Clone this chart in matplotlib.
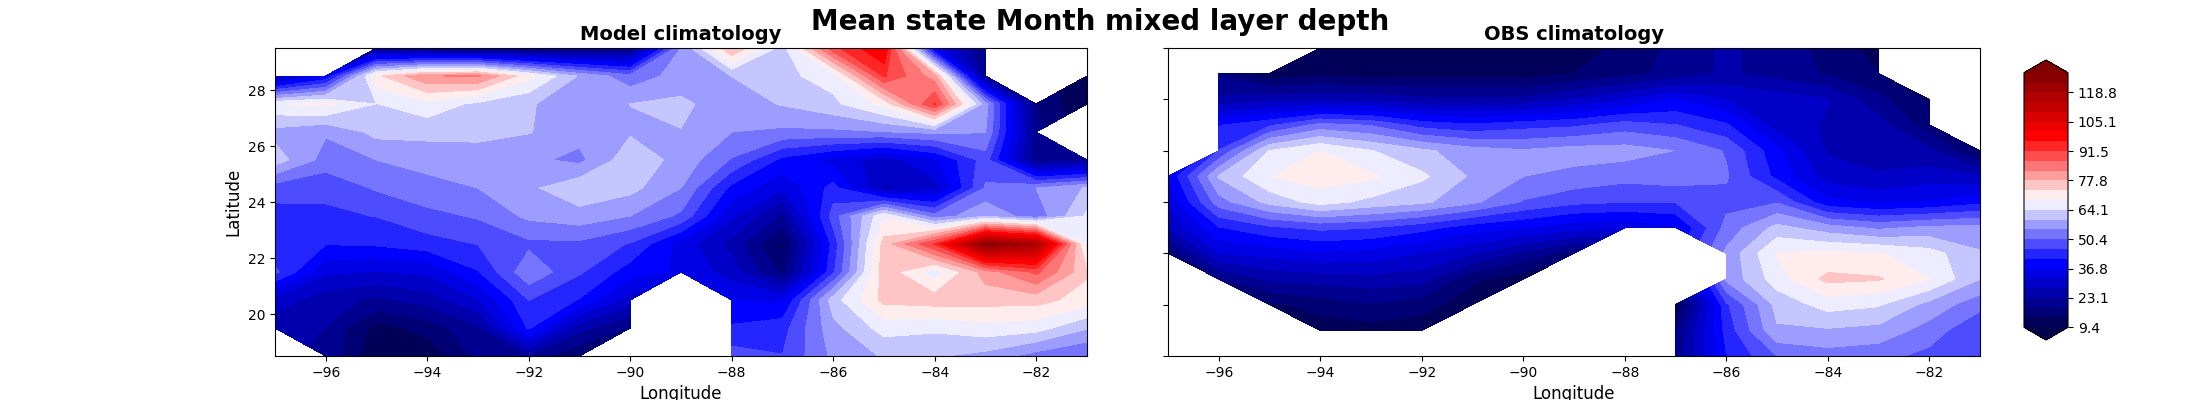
import numpy as np
import matplotlib
matplotlib.use('Agg')
import matplotlib.pyplot as plt

n = np.nan

# contour levels (9.4 up to about 128, every third one labelled)
level_min = 9.4
level_max = 127.93
n_levels = 27

lon = [-97, -96, -95, -94, -93, -92, -91, -90, -89, -88, -87, -86, -85, -84, -83, -82, -81]

# model grid, north to south
model_lat = [29.5, 28.5, 27.5, 26.5, 25.5, 24.5, 23.5, 22.5, 21.5, 20.5, 19.5, 18.5]
model_mld = [
    [n, n, 20, 16, 15, 15, 16, 18, 55, 78, 62, 90, 101, 35, 18, n, n],
    [25, 37, 72, 82, 83, 70, 59, 52, 57, 59.6, 63, 66, 92, 80, 20, n, 10],
    [68, 70, 64, 67, 63, 60, 57, 59.6, 60.5, 57, 59.9, 63, 70, 92, 57, 18, 10],
    [58, 55.5, 61, 61, 61, 59.8, 56.5, 59, 59.4, 55, 54, 54, 54.8, 56, 55.2, 20, n],
    [62, 53, 55, 56.5, 57, 56, 53.8, 62.5, 58, 50, 40, 35, 30, 36, 48, 20, 22],
    [48, 47, 51, 53.5, 55, 58.6, 63, 61, 55, 40, 33, 43, 27, 30, 51, 55, 60],
    [44, 45, 46, 49, 51, 56, 57.7, 55, 49.5, 33, 22, 48, 68, 52, 59, 52, 65],
    [42, 41.5, 42, 44, 46, 49.4, 49.4, 45.5, 35, 26, 13, 43, 75, 92, 125, 118, 66],
    [47, 33, 32, 33, 41, 54, 46.5, 39, 36, 30, 17, 45, 76, 66, 80, 88, 74],
    [30, 25, 22, 25, 32, 45.9, 41, 30, n, 36.7, 36, 62, 74.5, 75.5, 75, 75, 71],
    [25, 23, 12, 16, 22, 42, 25, 18, n, 42, 44, 58, 66, 65, 67, 66, 60],
    [n, 22, 10, 10, 20, 22, 14, n, n, 48, 46, 56, 60, 60, 58, 53, 50],
]

# obs grid, north to south
obs_lat = [30, 29, 28, 27, 26, 25, 24, 23, 22, 21, 20, 19, 18]
obs_mld = [
    [n, n, n, 11, 11, 11, 11, 11, 12, 15, 20, 24, 21, 17, 12, n, n],
    [n, 18, 11, 13, 12, 12, 12, 12, 14, 17, 20, 24, 21, 18, 14, n, n],
    [n, 24, 26, 26, 26, 24, 24, 24, 28, 32, 37, 32, 30, 28, 20, 13, n],
    [n, 41, 45, 52, 50, 44, 42, 44, 45, 48, 46, 42, 30, 27, 25, 16, n],
    [n, 46, 64.2, 68.7, 64.3, 60.5, 57, 55.5, 57, 57, 54.9, 50, 38, 27, 26, 24, 13],
    [37, 60, 68.5, 71, 69.5, 65, 58.8, 55, 53.7, 52, 53, 51, 40, 30, 28, 30, 28],
    [33, 53, 61, 66, 62.8, 60.5, 56, 50, 47, 46, 46, 49, 50, 38, 36, 37, 40],
    [28, 41, 45, 47, 46, 43, 39, 37, 34, 33, 36, 52, 61, 57, 54, 56, 56.5],
    [15, 32, 34, 36, 35, 32, 28, 22, 16, n, n, 56, 69, 69.5, 69, 66, 60],
    [n, 18, 24, 25, 26, 25, 15, 11, n, n, n, 56, 66.5, 74.5, 73.7, 68.7, 59.6],
    [n, n, 13, 16, 18, 16, 11, n, n, n, 10, 45, 61, 66, 64.6, 58, 52],
    [n, n, n, 11, 12, 11, n, n, n, n, 18, 43, 59, 59, 58, 53, 46],
    [n, n, n, n, n, n, n, n, n, n, 20, 41, 50.4, 53, 52, 49, 48],
]

levels = np.linspace(level_min, level_max, n_levels)

fig, (ax1, ax2) = plt.subplots(1, 2, figsize=(22, 4))
fig.subplots_adjust(wspace=0.1)

model_grid = np.ma.masked_invalid(np.array(model_mld, dtype=float))
obs_grid = np.ma.masked_invalid(np.array(obs_mld, dtype=float))

ax1.contourf(lon, model_lat, model_grid, levels=levels, cmap='seismic', extend='both')
ax1.set_title('Model climatology', fontsize=14, fontweight='bold')
ax1.set_xlabel('Longitude', fontsize=12)
ax1.set_ylabel('Latitude', fontsize=12)

cs = ax2.contourf(lon, obs_lat, obs_grid, levels=levels, cmap='seismic', extend='both')
ax2.set_title('OBS climatology', fontsize=14, fontweight='bold')
ax2.set_xlabel('Longitude', fontsize=12)
ax2.set_yticklabels([])

fig.suptitle('Mean state Month mixed layer depth', fontsize=20, fontweight='bold')

cax = fig.add_axes([0.92, 0.15, 0.02, 0.7])
cbar = fig.colorbar(cs, cax=cax, ticks=levels[::3], format='%.1f')

plt.savefig('out.png', dpi=100)
